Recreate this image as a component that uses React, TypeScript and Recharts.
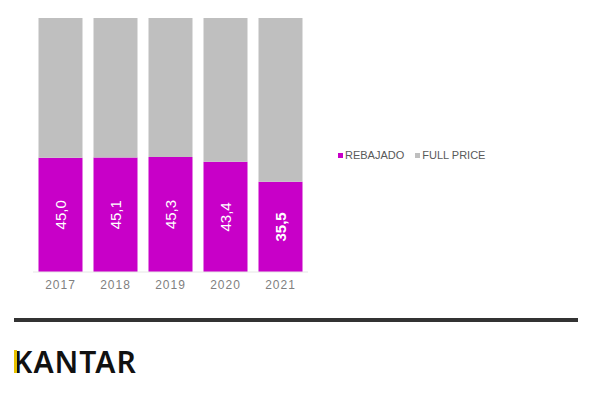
import { BarChart, Bar, XAxis, YAxis, LabelList } from 'recharts';

const years = ['2017', '2018', '2019', '2020', '2021'];
const rebajado = [45.0, 45.1, 45.3, 43.4, 35.5];
const fullPrice = [55.0, 54.9, 54.7, 56.6, 64.5];

const data = years.map((year, i) => ({
    year,
    rebajado: rebajado[i],
    fullPrice: fullPrice[i],
}));

const MAGENTA = '#c800c8';
const GREY = '#bfbfbf';

// rotated value label inside the magenta part, last one bold
const renderValue = (props: any) => {
    const { x, y, width, height, value, index } = props;
    const cx = x + width / 2;
    const cy = y + height / 2;
    return (
        <text
            x={cx}
            y={cy}
            fill="#fff"
            fontSize={15}
            fontWeight={index === years.length - 1 ? 'bold' : 'normal'}
            textAnchor="middle"
            dominantBaseline="central"
            transform={`rotate(-90 ${cx} ${cy})`}
        >
            {Number(value).toFixed(1).replace('.', ',')}
        </text>
    );
};

export default function App() {
    return (
        <div
            style={{
                position: 'absolute',
                left: 0,
                top: 0,
                width: 600,
                height: 394,
                background: '#fff',
                fontFamily: '"Liberation Sans", Arial, sans-serif',
            }}
        >
            <BarChart
                width={600}
                height={300}
                data={data}
                margin={{ top: 18, right: 292, bottom: 8, left: 33 }}
                barCategoryGap="10%"
            >
                <XAxis
                    dataKey="year"
                    axisLine={{ stroke: '#e6e6e6' }}
                    tickLine={false}
                    height={20}
                    tick={{ fill: '#7f7f7f', fontSize: 12, letterSpacing: 1 }}
                />
                <YAxis hide domain={[0, 100]} />
                <Bar dataKey="rebajado" stackId="a" fill={MAGENTA} isAnimationActive={false}>
                    <LabelList dataKey="rebajado" content={renderValue} />
                </Bar>
                <Bar dataKey="fullPrice" stackId="a" fill={GREY} isAnimationActive={false} />
            </BarChart>

            {/* legend */}
            <div
                style={{
                    position: 'absolute',
                    left: 338,
                    top: 148,
                    display: 'flex',
                    alignItems: 'center',
                    fontSize: 11,
                    color: '#595959',
                    lineHeight: '14px',
                }}
            >
                <span style={{ width: 5, height: 5, background: MAGENTA, marginRight: 2 }} />
                <span style={{ marginRight: 11 }}>REBAJADO</span>
                <span style={{ width: 5, height: 5, background: GREY, marginRight: 2 }} />
                <span>FULL PRICE</span>
            </div>

            {/* footer rule + logo */}
            <div
                style={{
                    position: 'absolute',
                    left: 14,
                    top: 318,
                    width: 564,
                    height: 4,
                    background: '#333',
                }}
            />
            <div
                style={{
                    position: 'absolute',
                    left: 13,
                    top: 344,
                    fontFamily: '"Noto Sans", sans-serif',
                    fontSize: 30,
                    fontWeight: 600,
                    color: '#111',
                    letterSpacing: 1,
                    lineHeight: '36px',
                }}
            >
                KANTAR
            </div>
            <div
                style={{
                    position: 'absolute',
                    left: 14,
                    top: 350,
                    width: 3,
                    height: 23,
                    background: '#e8c200',
                }}
            />
        </div>
    );
}
